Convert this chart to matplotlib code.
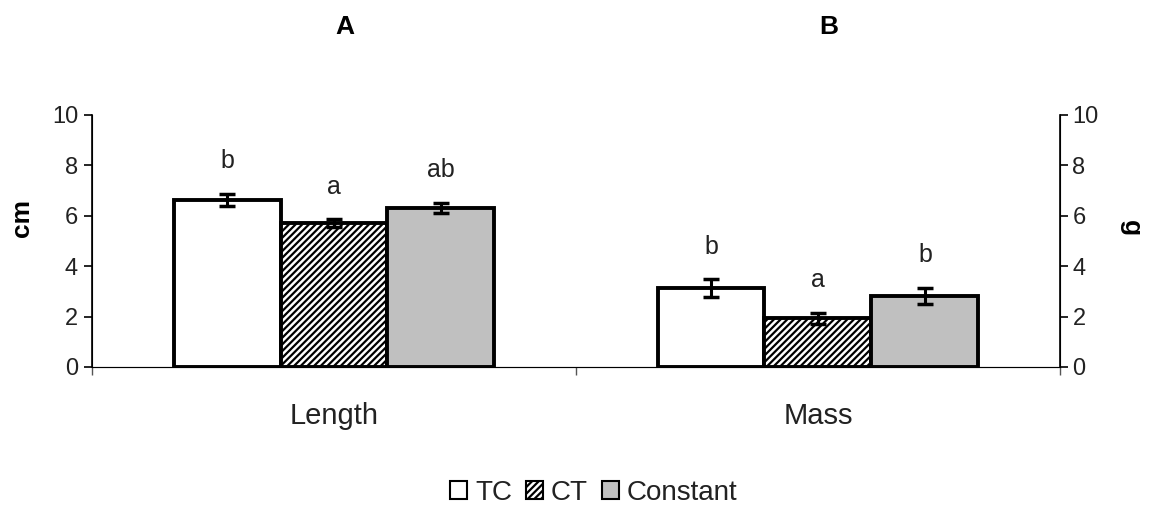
import matplotlib
matplotlib.use("Agg")
import matplotlib.pyplot as plt
from matplotlib.patches import Patch
import numpy as np

plt.rcParams['font.family'] = ['Liberation Sans', 'DejaVu Sans']
plt.rcParams['hatch.linewidth'] = 1.6

categories = ["Length", "Mass"]
series = ["TC", "CT", "Constant"]
values = {
    "TC": [6.63, 3.13],
    "CT": [5.71, 1.94],
    "Constant": [6.31, 2.82],
}
errors = {
    "TC": [0.25, 0.35],
    "CT": [0.15, 0.22],
    "Constant": [0.20, 0.33],
}
letters = {
    "TC": ["b", "b"],
    "CT": ["a", "a"],
    "Constant": ["ab", "b"],
}
panel_titles = ["A", "B"]
yticks = [0, 2, 4, 6, 8, 10]

styles = {
    "TC": dict(facecolor="white", hatch=None),
    "CT": dict(facecolor="white", hatch="/////"),
    "Constant": dict(facecolor="#c0c0c0", hatch=None),
}
TXT = "#222222"

fig = plt.figure(figsize=(11.53, 5.15), dpi=100)
ax = fig.add_axes([0.0798, 0.2874, 0.8395, 0.4893])

x = np.arange(len(categories)) + 0.5
width = 0.221
offsets = [-width, 0, width]
for s, off in zip(series, offsets):
    ax.bar(x + off, values[s], width, color=styles[s]["facecolor"],
           hatch=styles[s]["hatch"], edgecolor="black", linewidth=2.8,
           zorder=2)
    ax.errorbar(x + off, values[s], yerr=errors[s], fmt="none", ecolor="black",
                elinewidth=2.2, capsize=6, capthick=2.5, zorder=3)
    for xi, v, e, lt in zip(x + off, values[s], errors[s], letters[s]):
        ax.text(xi, v + e + 1.3, lt, ha="center", va="center",
                fontsize=18, color=TXT)

ax.set_xlim(0, 2)
ax.set_ylim(0, 10)
ax.set_yticks(yticks)
ax.set_yticklabels([str(t) for t in yticks], fontsize=17, color=TXT)
ax.set_xticks([0, 1, 2])
ax.set_xticklabels([])
ax.set_xticks(x, minor=True)
ax.set_xticklabels(categories, minor=True, fontsize=21, color=TXT)
ax.tick_params(axis="x", which="minor", length=0, pad=25)
ax.tick_params(axis="x", which="major", length=6, width=1, color="#555555")
ax.tick_params(axis="y", length=6, width=1.2, pad=4)
ax.spines["top"].set_visible(False)
ax.spines["bottom"].set_color("#555555")
ax.spines["left"].set_linewidth(1.2)
ax.set_ylabel("cm", fontsize=19, fontweight="bold", va="center")
ax.yaxis.set_label_coords(-0.072, 0.59)

ax2 = ax.twinx()
ax2.set_ylim(0, 10)
ax2.set_yticks(yticks)
ax2.set_yticklabels([str(t) for t in yticks], fontsize=17, color=TXT)
ax2.tick_params(axis="y", length=6, width=1.2, pad=3)
ax2.spines["top"].set_visible(False)
ax2.spines["right"].set_linewidth(1.2)
ax2.set_ylabel("g", fontsize=19, fontweight="bold", rotation=270, va="center")
ax2.yaxis.set_label_coords(1.073, 0.55)

for xi, t in zip(x, panel_titles):
    fig.text(ax.transData.transform((xi, 0))[0] / fig.bbox.width + 0.009, 0.947, t,
             ha="center", va="center", fontsize=19, fontweight="bold")

handles = [Patch(facecolor=styles[s]["facecolor"], hatch=styles[s]["hatch"],
                 edgecolor="black", linewidth=1.5, label=s) for s in series]
fig.legend(handles=handles, loc="center", bbox_to_anchor=(0.515, 0.043), ncol=3,
           frameon=False, fontsize=20, handlelength=0.6, handleheight=0.6,
           handletextpad=0.3, columnspacing=0.5, labelcolor=TXT)

fig.savefig("out.png", dpi=100)
